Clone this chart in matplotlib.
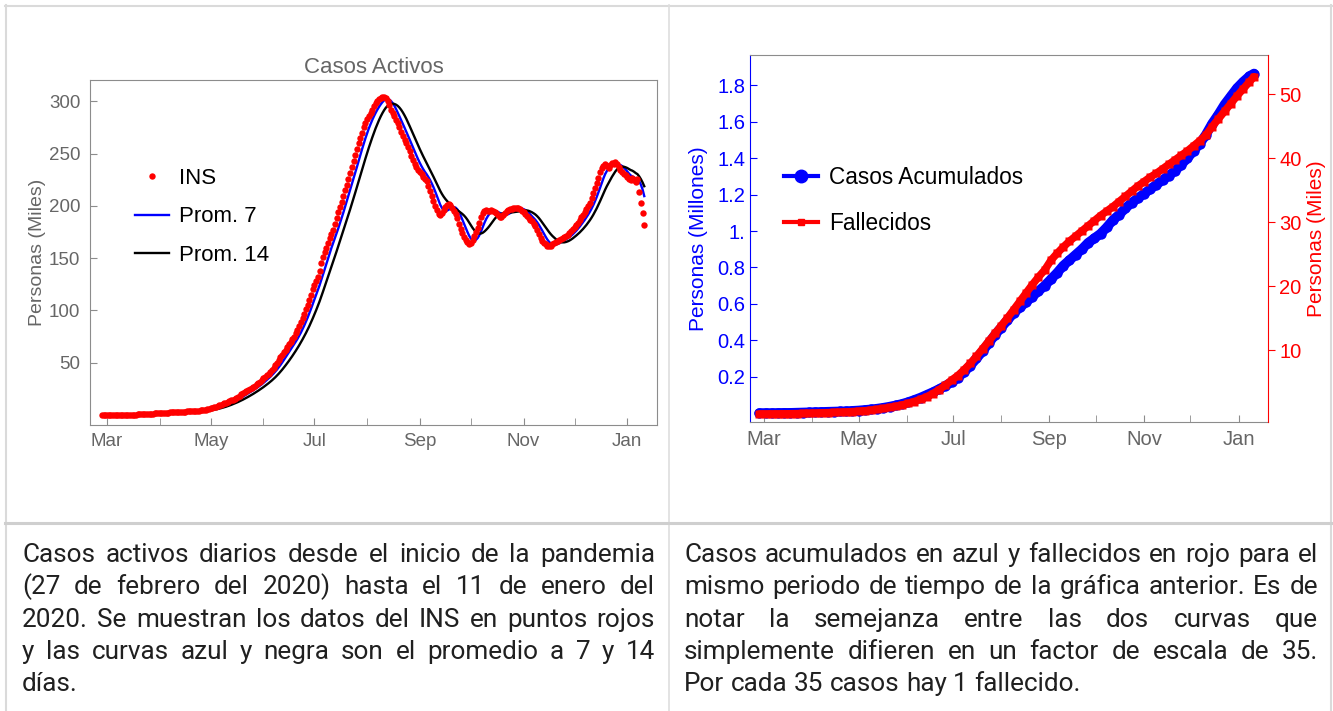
import matplotlib
matplotlib.use("Agg")
import matplotlib.pyplot as plt
import matplotlib.dates as mdates
from matplotlib.lines import Line2D
import pandas as pd

# casos activos INS (miles), diario desde 27 feb 2020 hasta 11 ene 2021
feb_mar = [0, 0, 0, 0, 0, 0, 0, 0, 0, 0.01, 0.02, 0.03, 0.05, 0.08, 0.1, 0.15, 0.2,
           0.25, 0.3, 0.35, 0.4, 0.45, 0.5, 0.6, 0.7, 0.8, 0.9, 1.0, 1.1, 1.2, 1.3, 1.4, 1.5, 1.6]
abr = [1.8, 1.9, 2.0, 2.1, 2.2, 2.3, 2.4, 2.5, 2.6, 2.7, 2.8, 2.9, 3.0, 3.1, 3.2,
       3.3, 3.4, 3.5, 3.6, 3.7, 3.8, 3.9, 4.0, 4.2, 4.4, 4.6, 4.8, 5.0, 5.3, 5.6]
may = [6.5, 7.0, 7.5, 8.0, 8.6, 9.2, 9.8, 10.4, 11.0, 11.7, 12.4, 13.1, 13.9, 14.7, 15.6,
       16.6, 17.6, 18.6, 19.6, 20.6, 21.6, 22.6, 23.6, 24.6, 25.7, 26.8, 28.0, 29.2, 30.5, 31.8, 33.0]
jun = [35, 36.5, 38, 39.5, 41, 43, 45, 47.5, 50, 52.5, 55, 57.5, 60, 62.5, 65,
       67.5, 70, 72.5, 75, 78, 81, 85, 89, 93, 97, 101, 105.5, 110, 115, 120]
jul = [124, 128, 132, 138, 145, 151, 156, 160, 164, 169, 173, 177, 183, 188, 194, 199,
       204, 209, 215, 220, 226, 231, 237, 243, 249, 254, 260, 265, 270, 275, 279]
ago = [283, 286, 289, 292, 295, 298, 300, 302, 303, 304, 304, 303, 300, 296, 292, 289,
       286, 282, 279, 275, 271, 267, 263, 260, 256, 252, 248, 244, 240, 237, 234]
sep = [232, 230, 228, 226, 224, 219, 214, 209, 205, 200, 196, 192, 191, 193, 196,
       199, 201, 202, 201, 198, 195, 192, 188, 183, 178, 174, 170, 167, 165, 163]
octu = [164, 167, 171, 175, 179, 184, 189, 193, 195, 196, 195, 195, 196, 195, 194, 193,
        191, 189, 189, 191, 193, 195, 196, 197, 197, 198, 198, 198, 198, 197, 195]
nov = [194, 192, 190, 188, 186, 185, 183, 181, 177, 173, 169, 166, 164, 163, 162,
       162, 162, 163, 164, 165, 166, 167, 168, 169, 170, 171, 172, 174, 176, 178]
dic = [180, 182, 184, 186, 189, 191, 194, 197, 200, 203, 207, 212, 217, 222, 227, 232,
       236, 238, 240, 238, 236, 239, 241, 240, 242, 240, 237, 234, 232, 230, 229]
ene = [228, 226, 225, 227, 225, 223, 226, 213, 203, 193, 182]

# acumulados cada 4 dias: casos (millones) y fallecidos (miles)
casos = [0, 0, 0, 0.0005, 0.001, 0.001, 0.002, 0.003, 0.004, 0.005,
         0.006, 0.007, 0.008, 0.009, 0.010, 0.012, 0.014, 0.017, 0.020, 0.024,
         0.029, 0.035, 0.042, 0.050, 0.060, 0.072, 0.085, 0.100, 0.115, 0.132,
         0.150, 0.170, 0.195, 0.225, 0.260, 0.300, 0.340, 0.385, 0.430, 0.470,
         0.510, 0.550, 0.580, 0.610, 0.640, 0.670, 0.700, 0.735, 0.770, 0.810,
         0.840, 0.870, 0.900, 0.935, 0.960, 0.985, 1.020, 1.060, 1.090, 1.125,
         1.155, 1.180, 1.205, 1.230, 1.255, 1.280, 1.305, 1.330, 1.365, 1.400,
         1.440, 1.480, 1.530, 1.590, 1.640, 1.695, 1.740, 1.785, 1.820, 1.850, 1.865]
fallecidos = [0, 0, 0, 0.01, 0.02, 0.03, 0.05, 0.08, 0.1, 0.13,
              0.17, 0.2, 0.24, 0.28, 0.32, 0.37, 0.43, 0.5, 0.6, 0.72,
              0.86, 1.02, 1.2, 1.4, 1.65, 1.95, 2.3, 2.7, 3.2, 3.8,
              4.5, 5.3, 6.0, 6.9, 7.9, 9.0, 10.2, 11.4, 12.6, 13.8,
              15.0, 16.3, 17.6, 18.9, 20.2, 21.4, 22.5, 24.0, 25.1, 26.1,
              27.0, 27.8, 28.6, 29.4, 30.2, 31.0, 31.7, 32.4, 33.2, 34.0,
              34.8, 35.6, 36.3, 37.0, 37.6, 38.3, 39.0, 39.7, 40.4, 41.1,
              41.9, 42.7, 43.6, 44.9, 46.1, 47.3, 48.5, 49.7, 50.8, 51.9, 52.7]

ticks_millones = [0.2, 0.4, 0.6, 0.8, 1.0, 1.2, 1.4, 1.6, 1.8]
etiquetas_millones = ["0.2", "0.4", "0.6", "0.8", "1.", "1.2", "1.4", "1.6", "1.8"]
ticks_miles = [10, 20, 30, 40, 50]
ticks_activos = [50, 100, 150, 200, 250, 300]

texto_izq = ["Casos activos diarios desde el inicio de la pandemia",
             "(27 de febrero del 2020) hasta el 11 de enero del",
             "2020. Se muestran los datos del INS en puntos rojos",
             "y las curvas azul y negra son el promedio a 7 y 14",
             "días."]
texto_der = ["Casos acumulados en azul y fallecidos en rojo para el",
             "mismo periodo de tiempo de la gráfica anterior. Es de",
             "notar la semejanza entre las dos curvas que",
             "simplemente difieren en un factor de escala de 35.",
             "Por cada 35 casos hay 1 fallecido."]

W, H = 1333, 711
GRIS = "#666666"
plt.rcParams["font.family"] = ["Liberation Sans", "DejaVu Sans"]


def box(l, t, r, b):
    return [l / W, 1 - b / H, (r - l) / W, (b - t) / H]


fig = plt.figure(figsize=(W / 100, H / 100), dpi=100)

# ---- grafica izquierda: casos activos
dias = pd.date_range("2020-02-27", "2021-01-11", freq="D")
activos = pd.Series(feb_mar + abr + may + jun + jul + ago + sep + octu + nov + dic + ene, index=dias)
prom7 = activos.rolling(7, min_periods=1).mean()
prom14 = activos.rolling(14, min_periods=1).mean()

ax1 = fig.add_axes(box(90, 80, 657, 425))
ax1.plot(dias, prom7, color="blue", lw=1.7, label="Prom. 7", zorder=2)
ax1.plot(dias, prom14, color="black", lw=1.7, label="Prom. 14", zorder=2)
ax1.plot(dias, activos, "o", color="red", ms=4.6, mec="none", label="INS", zorder=3)
ax1.set_xlim(pd.Timestamp("2020-02-20"), pd.Timestamp("2021-01-18 12:00"))
ax1.set_ylim(-9.6, 320.3)
ax1.set_yticks(ticks_activos)
ax1.set_title("Casos Activos", color=GRIS, fontsize=16, pad=5)
ax1.set_ylabel("Personas (Miles)", color=GRIS, fontsize=14)
ax1.yaxis.set_label_coords(-0.078, 0.5)
h, l = ax1.get_legend_handles_labels()
ax1.legend([h[2], h[0], h[1]], [l[2], l[0], l[1]], loc="upper left",
           bbox_to_anchor=(0.079, 0.745), frameon=False, fontsize=16,
           handlelength=1.55, handletextpad=0.45, labelspacing=0.78,
           borderaxespad=0, borderpad=0, numpoints=1)

# ---- grafica derecha: acumulados
fechas = pd.date_range("2020-02-27", periods=80, freq="4D").append(pd.DatetimeIndex(["2021-01-11"]))
ax2 = fig.add_axes(box(750, 55, 1268, 422))
ax3 = ax2.twinx()
ax2.plot(fechas, casos, "-o", color="blue", lw=7, ms=7.5, mec="none", solid_capstyle="round")
ax3.plot(fechas, fallecidos, "-s", color="red", lw=5.5, ms=5.5, mec="none", solid_capstyle="round")
ax2.set_xlim(pd.Timestamp("2020-02-21"), pd.Timestamp("2021-01-20"))
ax2.set_ylim(-0.049, 1.967)
ax3.set_ylim(-1.25, 56.1)
ax2.set_yticks(ticks_millones)
ax2.set_yticklabels(etiquetas_millones)
ax3.set_yticks(ticks_miles)
ax2.set_ylabel("Personas (Millones)", color="blue", fontsize=15)
ax2.yaxis.set_label_coords(-0.081, 0.5)
ax3.set_ylabel("Personas (Miles)", color="red", fontsize=15, rotation=90)
ax3.yaxis.set_label_coords(1.075, 0.5)
leyenda = [Line2D([], [], color="blue", lw=3, marker="o", ms=9),
           Line2D([], [], color="red", lw=3, marker="s", ms=5)]
ax3.legend(leyenda, ["Casos Acumulados", "Fallecidos"], loc="upper left",
           bbox_to_anchor=(0.066, 0.697), frameon=False, fontsize=16.3,
           handlelength=1.5, handletextpad=0.5, labelspacing=1.0,
           borderaxespad=0, borderpad=0, numpoints=1)

for ax, tam in ((ax1, 13.5), (ax2, 14.5)):
    ax.xaxis.set_major_locator(mdates.MonthLocator(bymonth=[1, 3, 5, 7, 9, 11]))
    ax.xaxis.set_major_formatter(mdates.DateFormatter("%b"))
    ax.xaxis.set_minor_locator(mdates.MonthLocator())
    ax.tick_params(axis="x", which="both", direction="in", length=5, color="#8c8c8c",
                   labelcolor=GRIS, labelsize=tam, pad=6)
    for s in ax.spines.values():
        s.set_color("#8c8c8c")

ax1.tick_params(axis="y", direction="in", length=5, color="#8c8c8c", labelcolor=GRIS,
                labelsize=13.5, pad=7)
ax2.tick_params(axis="y", direction="in", length=5, color="blue", labelcolor="blue",
                labelsize=14.5, pad=3.5)
ax2.spines["left"].set_color("blue")
ax2.spines["right"].set_visible(False)
for s in ("left", "top", "bottom"):
    ax3.spines[s].set_visible(False)
ax3.spines["right"].set_color("red")
ax3.tick_params(axis="y", direction="out", length=5, color="red", labelcolor="red",
                labelsize=14.5, pad=3)

# ---- tabla
def linea(x0, y0, x1, y1, color, lw):
    fig.add_artist(Line2D([x0 / W, x1 / W], [1 - y0 / H, 1 - y1 / H],
                          transform=fig.transFigure, color=color, lw=lw))

linea(5, 6, W, 6, "#dadada", 1.5)
linea(6, 5, 6, H, "#dadada", 1.5)
linea(1331, 5, 1331, H, "#dadada", 1.5)
linea(669, 5, 669, H, "#dedede", 1.2)
linea(5, 523, W, 523, "#cfcfcf", 2.2)

# ---- textos justificados
renderer = fig.canvas.get_renderer()
FUENTE = dict(fontsize=18.8, family=["Roboto", "DejaVu Sans"])


def parrafo(lineas, x0, x1, y0, paso):
    for i, frase in enumerate(lineas):
        y = 1 - (y0 + i * paso) / H
        palabras = frase.split(" ")
        objs = [fig.text(0, y, p, color="#202020", va="baseline", **FUENTE) for p in palabras]
        anchos = [t.get_window_extent(renderer).width for t in objs]
        if i == len(lineas) - 1:
            esp = fig.text(0, 0, "a a", **FUENTE)
            e2 = fig.text(0, 0, "aa", **FUENTE)
            hueco = esp.get_window_extent(renderer).width - e2.get_window_extent(renderer).width
            esp.remove()
            e2.remove()
        else:
            hueco = (x1 - x0 - sum(anchos)) / (len(palabras) - 1)
        x = x0
        for t, a in zip(objs, anchos):
            t.set_x(x / W)
            x += a + hueco


parrafo(texto_izq, 22, 655, 562, 32.3)
parrafo(texto_der, 684, 1318, 562, 32.3)

fig.savefig("out.png", dpi=100)
